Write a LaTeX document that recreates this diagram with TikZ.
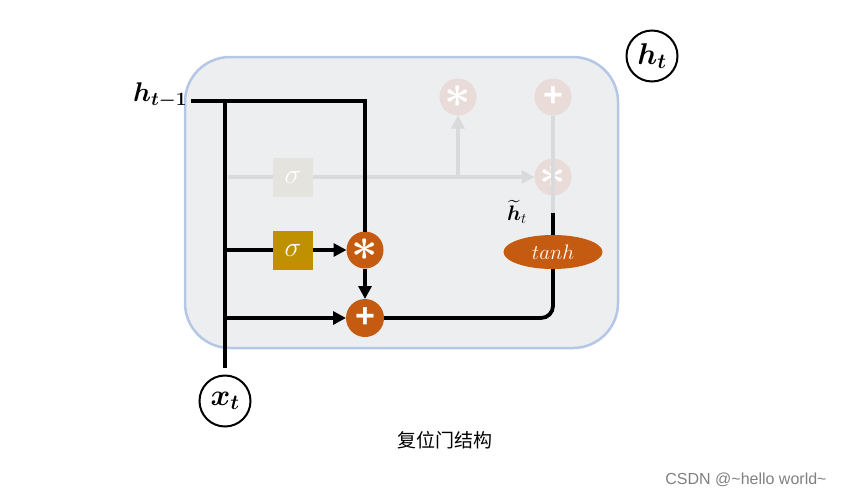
\RequirePackage{fix-cm}
\documentclass[tikz,border=0pt]{standalone}
\usepackage{amsmath}
\usepackage{amssymb}
\usepackage{fontspec}
\newfontfamily\cjk{Noto Sans CJK SC}
\newfontfamily\wm{Liberation Sans}
\usetikzlibrary{arrows.meta,shapes.geometric}

\definecolor{gateorange}{HTML}{C55A11}
\definecolor{gategold}{HTML}{BF9000}
\definecolor{cellfill}{HTML}{EDEEF0}
\definecolor{cellborder}{HTML}{B4C7E7}
\definecolor{fadegray}{HTML}{D9DADC}
\definecolor{fadeorange}{HTML}{E8DBD8}
\definecolor{fadebox}{HTML}{E4E3DD}

\begin{document}
\begin{tikzpicture}[x=1pt, y=-1pt, outer sep=0pt, >={Triangle[length=13pt,width=13pt]}]

\tikzstyle{op}=[circle, fill=gateorange, minimum size=37pt, inner sep=0pt, text=white]
\tikzstyle{opfade}=[circle, fill=fadeorange, minimum size=37pt, inner sep=0pt, text=white]
\tikzstyle{wire}=[line width=3.8pt]
\tikzstyle{fadewire}=[line width=3.8pt, draw=fadegray]
\tikzstyle{port}=[circle, draw, line width=2pt, minimum size=51pt, inner sep=0pt, font=\fontsize{30}{34}\selectfont]
\tikzstyle{sig}=[rectangle, minimum height=39pt, minimum width=40pt, inner sep=0pt, text=white, font=\fontsize{28}{30}\selectfont]
\tikzstyle{plus}=[font=\wm\bfseries\fontsize{34}{34}\selectfont]
\tikzstyle{star}=[font=\fontsize{46}{46}\selectfont]

\useasboundingbox (0,0) rectangle (856,496);

% cell
\draw[fill=cellfill, draw=cellborder, line width=2.5pt, rounded corners=45pt] (185,57) rectangle (618,348);

% faded part of the cell
\node[sig, fill=fadebox, text=white!95!fadebox] (fsig) at (293,177) {$\sigma$};
\node[opfade, star] (fmul1) at (458,97) {$\boldsymbol{\ast}$};
\node[opfade, plus] (fadd) at (553,97) {+};
\node[opfade, star] (fmul2) at (553,177) {$\boldsymbol{\ast}$};
\coordinate (fin) at (228,177);
\coordinate (fsplit) at (458,177);
\draw[fadewire] (fin) -- (fsig.west);
\draw[fadewire, ->] (fsig.east) -- (fmul2.west);
\draw[fadewire, ->] (fsplit) -- (fmul1.south);

% gate
\node[sig, fill=gategold] (gate) at (293,250) {$\sigma$};
\node[op, star] (mul) at (365,250) {$\boldsymbol{\ast}$};
\node[op, plus, minimum size=38pt] (add) at (365,318) {+};
\node[ellipse, fill=gateorange, minimum width=99pt, minimum height=34pt, inner sep=0pt, text=white, font=\fontsize{21}{24}\selectfont] (tanh) at (553,252) {$tanh$};

% inputs and outputs
\node[port] (ht) at (652,56) {$\boldsymbol{h_t}$};
\node[port] (xt) at (225,401) {$\boldsymbol{x_t}$};
\node[anchor=east, inner sep=0pt, font=\fontsize{27}{30}\selectfont] (hprev) at (187,95) {$\boldsymbol{h_{t-1}}$};
\node[inner sep=0pt, font=\fontsize{21}{22}\selectfont] (htil) at (517,212) {$\widetilde{\boldsymbol{h}}_t$};
\coordinate (hin) at (191,101);
\coordinate (htop) at (553,213);

\draw[fadewire] (fadd.south) -- (htop);

% wires
\draw[wire] (hin) -- (hin -| mul) -- (mul.north);
\draw[wire, shorten >=8pt] (hin -| xt) -- (xt.north);
\draw[wire] (gate.west -| xt) -- (gate.west);
\draw[wire, ->] (gate.east) -- (mul.west);
\draw[wire, ->] (mul.south) -- (add.north);
\draw[wire, ->] (add.west -| xt) -- (add.west);
\draw[wire, rounded corners=12pt] (add.east) -- (add.east -| tanh) -- (tanh.south);
\draw[wire] (tanh.north) -- (htop);

% captions
\node[font=\cjk\fontsize{19}{22}\selectfont] (cap) at (445,440) {复位门结构};
\node[font=\wm\fontsize{16}{18}\selectfont, text=black!50] (mark) at (746,480) {CSDN @\textasciitilde hello world\textasciitilde};

\end{tikzpicture}
\end{document}
